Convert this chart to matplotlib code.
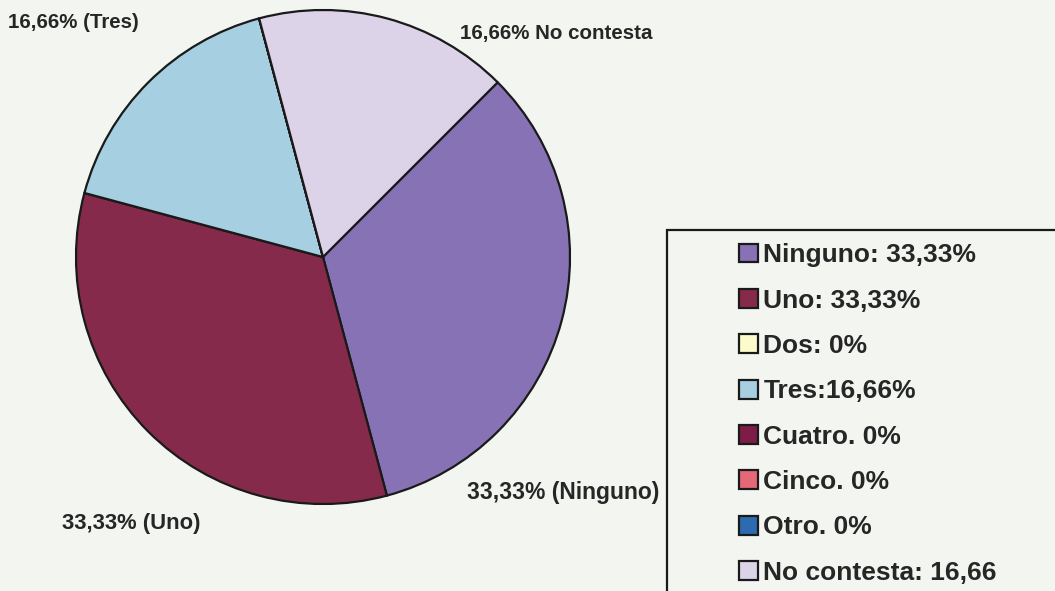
import matplotlib.pyplot as plt
from matplotlib.patches import Rectangle

W, H = 1055, 591

categories = ['Ninguno', 'Uno', 'Dos', 'Tres', 'Cuatro', 'Cinco', 'Otro', 'No contesta']
values = [33.33, 33.33, 0, 16.66, 0, 0, 0, 16.66]
legend_labels = ['Ninguno: 33,33%', 'Uno: 33,33%', 'Dos: 0%', 'Tres:16,66%',
                 'Cuatro. 0%', 'Cinco. 0%', 'Otro. 0%', 'No contesta: 16,66']
colors = ['#8672b4', '#862a4c', '#fbfbcc', '#a6d0e2',
          '#7e1c48', '#e56878', '#2c6bb0', '#dcd3e8']
pie_labels = ['33,33% (Ninguno)', '33,33% (Uno)', '16,66% (Tres)', '16,66% No contesta']

bg = '#f3f5f1'
fig = plt.figure(figsize=(W / 100, H / 100), dpi=100, facecolor=bg)

# pie centre (323, 257) px, radius ~247 px
cx, cy, r = 323, 257, 247
half = 250
ax = fig.add_axes([(cx - half) / W, (H - cy - half) / H, 2 * half / W, 2 * half / H])
ax.set_facecolor(bg)
wedges, _ = ax.pie(values, colors=colors, startangle=45, counterclock=False,
                   wedgeprops=dict(edgecolor='#1a1a1a', linewidth=1.6))
lim = half / r
ax.set_xlim(-lim, lim)
ax.set_ylim(-lim, lim)
ax.axis('off')

lab_font = dict(family='Liberation Sans', fontweight='bold',
                color='#262626', va='center', ha='left')
label_pos = [(467, 492), (62, 524), (8, 22), (460, 34)]
label_size = [16.5, 15.8, 14.8, 14.8]
for txt, (x, y), s in zip(pie_labels, label_pos, label_size):
    fig.text(x / W, 1 - y / H, txt, fontsize=s, **lab_font)

# legend box running off the right/bottom edge
fig.patches.append(Rectangle((667 / W, -0.01), 1, 1.01 - 230 / H, transform=fig.transFigure,
                             facecolor='none', edgecolor='#1a1a1a', linewidth=1.6))

leg = fig.legend(wedges, legend_labels, loc='upper left',
                 bbox_to_anchor=(726 / W, 1 - 230 / H), frameon=False,
                 prop=dict(family='Liberation Sans', weight='bold', size=19),
                 handlelength=0.72, handleheight=0.72, handletextpad=0.2,
                 labelspacing=0.81, borderpad=0)
for t in leg.get_texts():
    t.set_color('#262626')

fig.savefig('out.png', dpi=100, facecolor=bg)
